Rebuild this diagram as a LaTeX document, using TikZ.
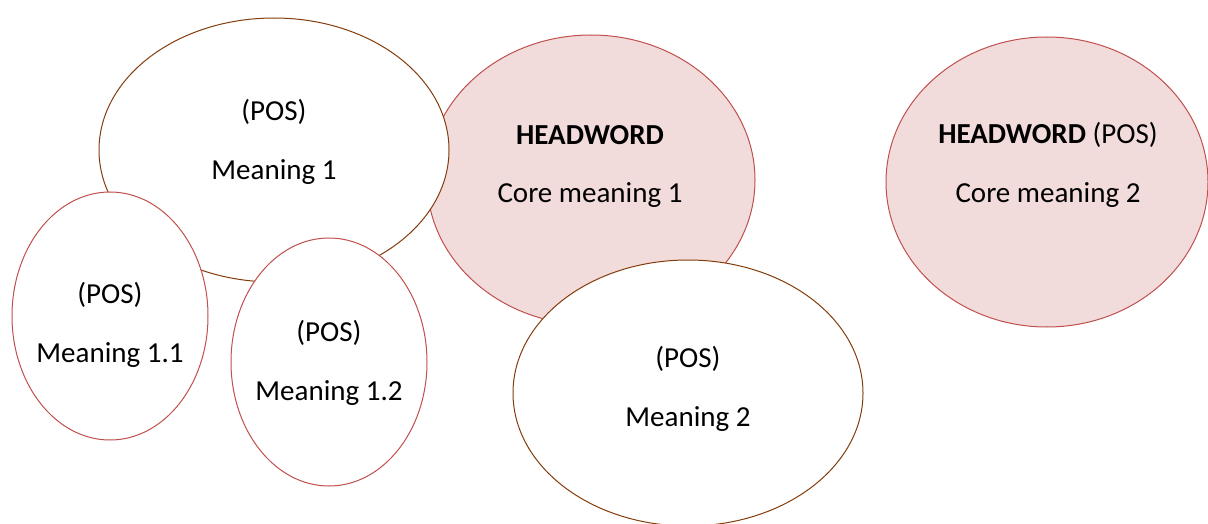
\documentclass[tikz,border=0pt]{standalone}
\usepackage{fontspec}
\setmainfont{Carlito}
\usetikzlibrary{shapes.geometric}
\definecolor{brownline}{HTML}{843C0C}
\definecolor{redline}{HTML}{C0504D}
\definecolor{pinkfill}{HTML}{F2DCDB}
\begin{document}
\begin{tikzpicture}[x=1pt,y=-1pt,
  txt/.style={font=\fontsize{29}{29}\selectfont, inner sep=0pt},
  pinkell/.style={draw=redline, fill=pinkfill, line width=1pt},
  brownell/.style={draw=brownline, fill=white, line width=1pt},
  redell/.style={draw=redline, fill=white, line width=1pt}]
\useasboundingbox (0,0) rectangle (1208,524);
\begin{scope}
\clip (0,0) rectangle (1208,524);
% core meaning 1
\draw[pinkell] (591,180) ellipse [x radius=164, y radius=145];
\coordinate (c1) at (591,180);
% core meaning 2
\draw[pinkell] (1047,182) ellipse [x radius=161, y radius=145];
\coordinate (c2) at (1047,182);
% meaning 1
\draw[brownell] (274,150) ellipse [x radius=175, y radius=132];
\coordinate (m1) at (274,150);
% meaning 1.1
\draw[redell] (110,316) ellipse [x radius=98, y radius=124];
\coordinate (m11) at (110,316);
% meaning 1.2
\draw[redell] (329,362) ellipse [x radius=98, y radius=124];
\coordinate (m12) at (329,362);
% meaning 2
\draw[brownell] (688,393) ellipse [x radius=175, y radius=133];
\coordinate (m2) at (688,393);
\end{scope}
\node[txt] (c1a) at (590,135) {\textbf{HEADWORD}};
\node[txt] (c1b) at (590,195) {Core meaning 1};
\node[txt] (c2a) at (1048,135) {\textbf{HEADWORD} (POS)};
\node[txt] (c2b) at (1048,195) {Core meaning 2};
\node[txt] (m1a) at (274,112) {(POS)};
\node[txt] (m1b) at (274,172) {Meaning 1};
\node[txt] (m11a) at (110,295) {(POS)};
\node[txt] (m11b) at (110,355) {Meaning 1.1};
\node[txt] (m12a) at (329,333) {(POS)};
\node[txt] (m12b) at (329,393) {Meaning 1.2};
\node[txt] (m2a) at (688,359) {(POS)};
\node[txt] (m2b) at (688,419) {Meaning 2};
\end{tikzpicture}
\end{document}
